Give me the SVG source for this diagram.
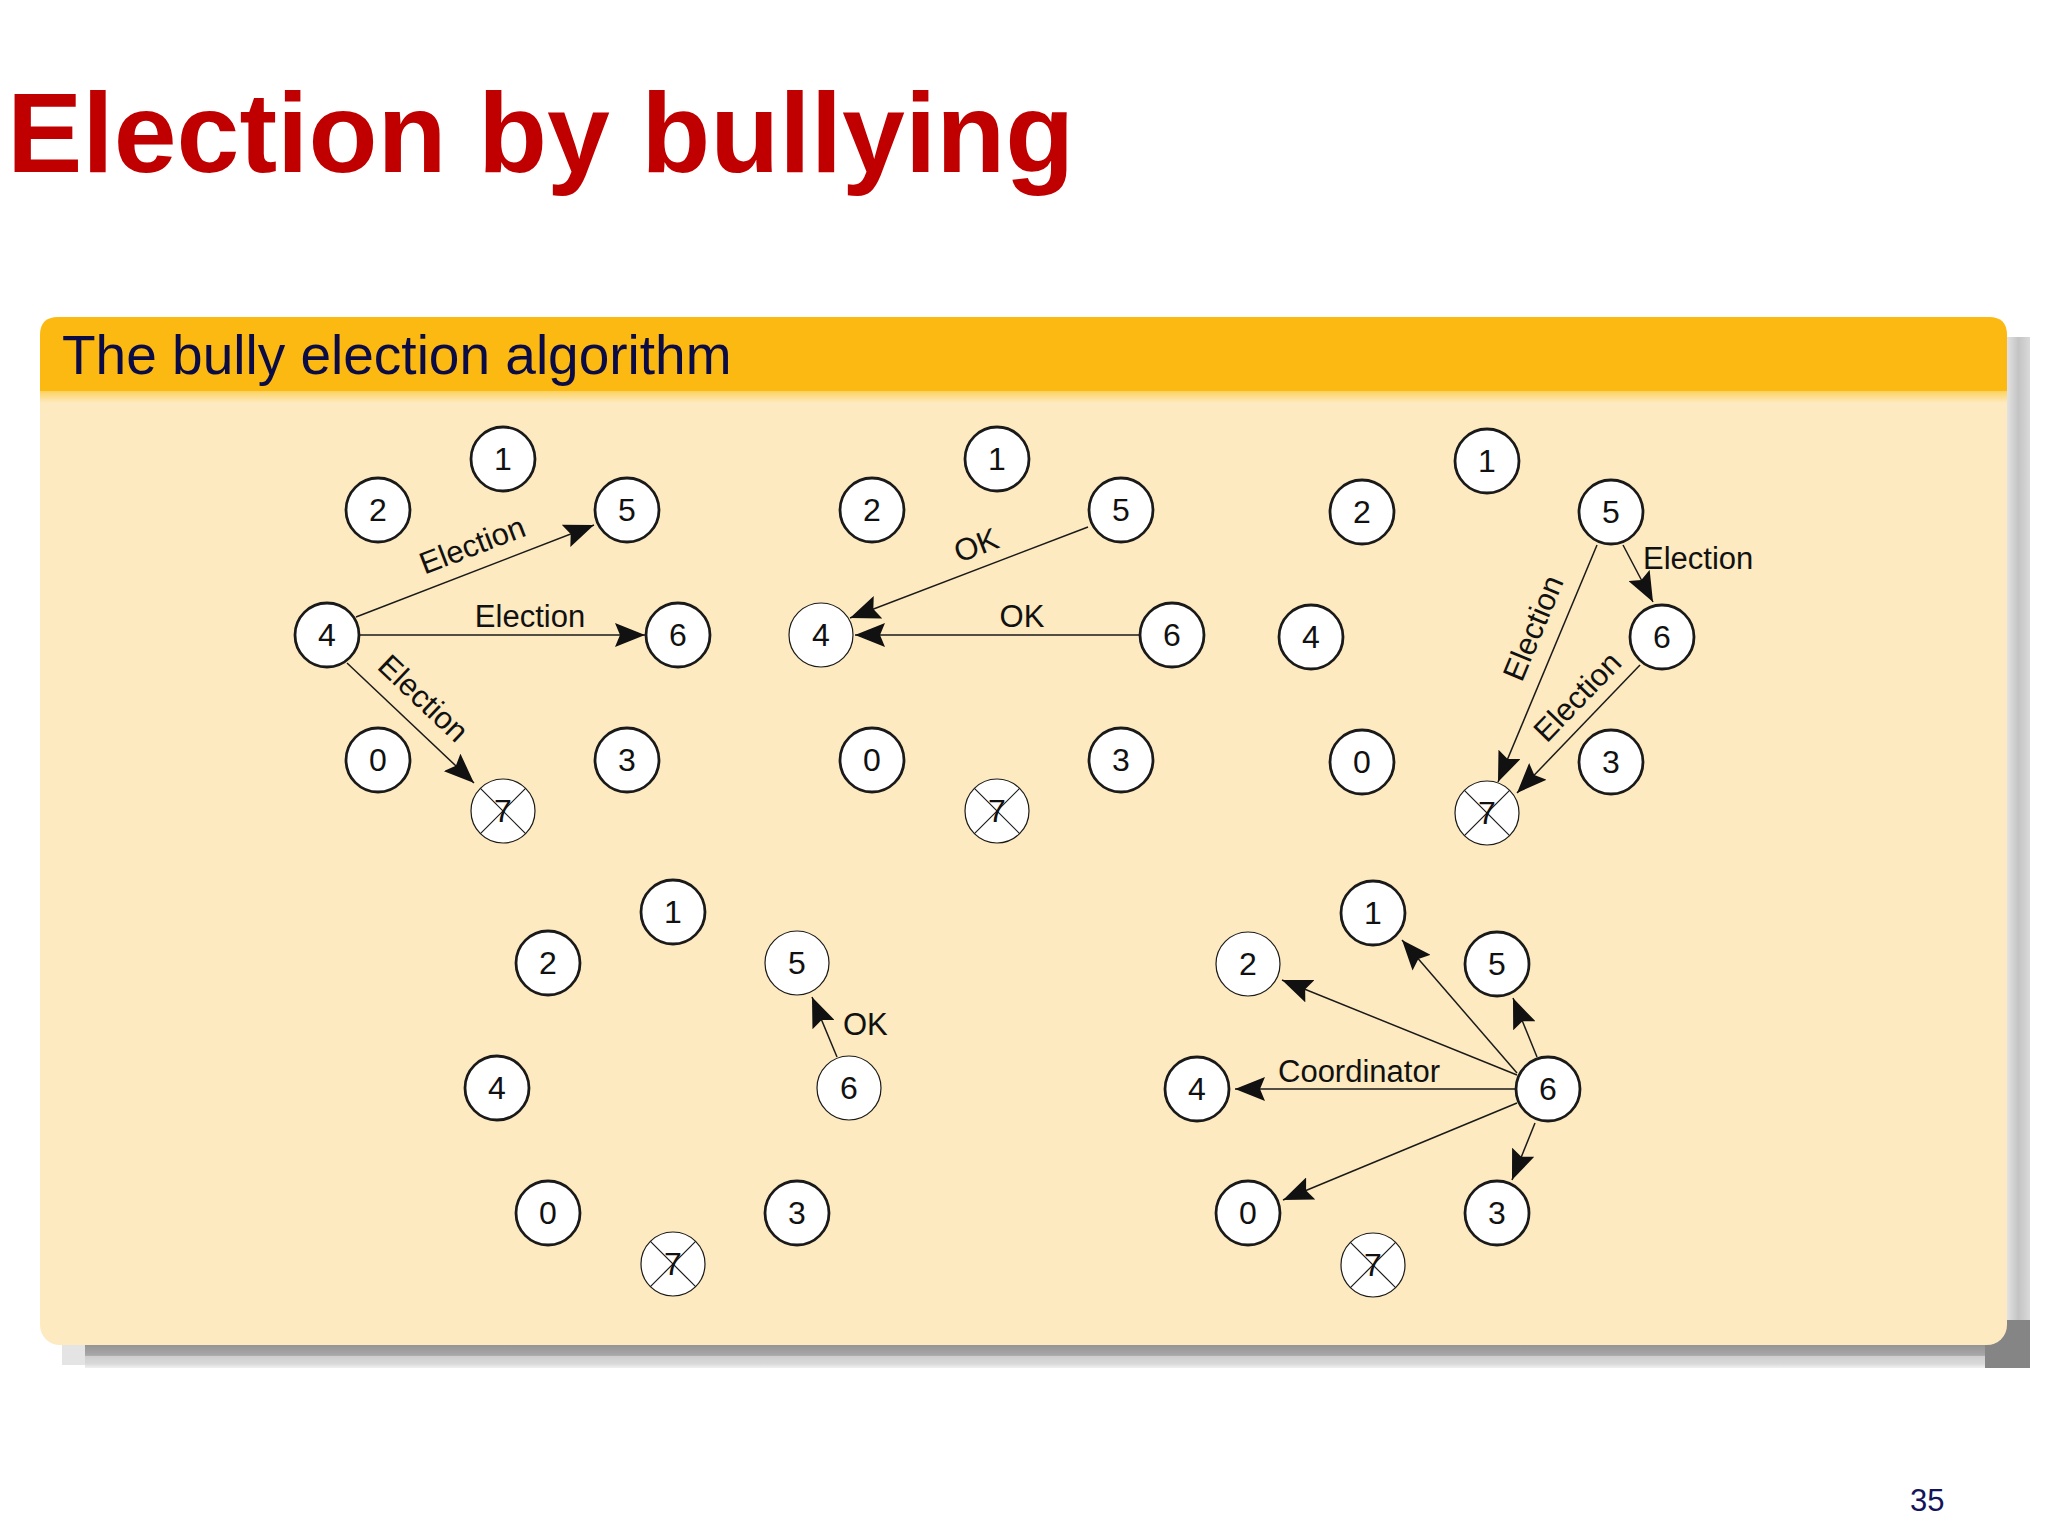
<svg xmlns="http://www.w3.org/2000/svg" width="2048" height="1536" viewBox="0 0 2048 1536">
<defs>
<style>
.title{font-family:"Liberation Sans",Arial,sans-serif;font-weight:bold;font-size:113px;fill:#C00000}
.hdr{font-family:"Liberation Sans",Arial,sans-serif;font-size:55px;fill:#0B0B45}
.pg{font-family:"Liberation Sans",Arial,sans-serif;font-size:31px;fill:#14145A}
.node circle{fill:#fff;stroke:#1a1a1a;stroke-width:2.8}
.node.thin circle{stroke-width:1.2}
.node line{stroke:#1a1a1a;stroke-width:1.2}
.node text{font-family:"Liberation Sans",Arial,sans-serif;font-size:32px;text-anchor:middle;fill:#111}
.edge{stroke:#1a1a1a;stroke-width:1.5;fill:none;marker-end:url(#arr)}
.lbl{font-family:"Liberation Sans",Arial,sans-serif;font-size:31px;fill:#111}
.mid{text-anchor:middle}
</style>
<marker id="arr" markerUnits="userSpaceOnUse" markerWidth="30" markerHeight="24" refX="30" refY="12" orient="auto">
<path d="M0,0 L30,12 L0,24 L5,12 Z" fill="#111"/>
</marker>
<linearGradient id="rsh" x1="0" y1="0" x2="1" y2="0">
<stop offset="0" stop-color="#e2e2e2"/><stop offset="0.5" stop-color="#c4c4c4"/><stop offset="1" stop-color="#dadada"/>
</linearGradient>
<linearGradient id="bsh" x1="0" y1="0" x2="0" y2="1">
<stop offset="0" stop-color="#959595"/><stop offset="0.45" stop-color="#a8a8a8"/><stop offset="0.5" stop-color="#cfcfcf"/><stop offset="0.8" stop-color="#d8d8d8"/><stop offset="1" stop-color="#f0f0f0"/>
</linearGradient>
<linearGradient id="hfade" x1="0" y1="0" x2="0" y2="1">
<stop offset="0" stop-color="#FCD25E"/><stop offset="1" stop-color="#FDEAC0"/>
</linearGradient>
</defs>

<rect width="2048" height="1536" fill="#ffffff"/>
<text class="title" x="7" y="172">Election by bullying</text>

<g id="panel">
<rect x="2007" y="337" width="23" height="1010" fill="url(#rsh)"/>
<rect x="62" y="1345" width="30" height="20" fill="#e4e4e4"/>
<rect x="85" y="1345" width="1922" height="23" fill="url(#bsh)"/>
<rect x="1985" y="1320" width="45" height="48" fill="#858585"/>
<rect x="40" y="317" width="1967" height="1028" rx="20" ry="20" fill="#FDEAC0"/>
<path d="M40,392 L40,335 Q40,317 58,317 L1989,317 Q2007,317 2007,335 L2007,392 Z" fill="#FCB912"/>
<rect x="40" y="391" width="1967" height="12" fill="url(#hfade)"/>
<text class="hdr" x="62" y="374">The bully election algorithm</text>
</g>

<g id="connectors">
<!-- D1 -->
<line class="edge" x1="356" y1="617" x2="594" y2="525"/>
<line class="edge" x1="360" y1="635" x2="645" y2="635"/>
<line class="edge" x1="347" y1="663" x2="474" y2="783"/>
<!-- D2 -->
<line class="edge" x1="1088" y1="527" x2="850" y2="618"/>
<line class="edge" x1="1139" y1="635" x2="855" y2="635"/>
<!-- D3 -->
<line class="edge" x1="1623" y1="545" x2="1653" y2="602"/>
<line class="edge" x1="1597" y1="545" x2="1498" y2="782"/>
<line class="edge" x1="1640" y1="665" x2="1517" y2="793"/>
<!-- D4 -->
<line class="edge" x1="837" y1="1057" x2="812" y2="997"/>
<!-- D5 -->
<line class="edge" x1="1517" y1="1073" x2="1402" y2="940"/>
<line class="edge" x1="1537" y1="1057" x2="1513" y2="998"/>
<line class="edge" x1="1517" y1="1075" x2="1282" y2="980"/>
<line class="edge" x1="1515" y1="1089" x2="1235" y2="1089"/>
<line class="edge" x1="1517" y1="1103" x2="1283" y2="1200"/>
<line class="edge" x1="1535" y1="1123" x2="1512" y2="1180"/>
</g>

<g id="labels">
<text class="lbl mid" transform="translate(476,555) rotate(-21)">Election</text>
<text class="lbl mid" x="530" y="627">Election</text>
<text class="lbl mid" transform="translate(416,706) rotate(43.5)">Election</text>
<text class="lbl mid" transform="translate(980,555) rotate(-21)">OK</text>
<text class="lbl mid" x="1022" y="627">OK</text>
<text class="lbl" x="1643" y="569">Election</text>
<text class="lbl mid" transform="translate(1543,632) rotate(-67.4)">Election</text>
<text class="lbl mid" transform="translate(1585,704) rotate(-46)">Election</text>
<text class="lbl" x="843" y="1035">OK</text>
<text class="lbl" x="1278" y="1082">Coordinator</text>
</g>

<!-- Diagram 1 -->
<g id="d1-n1" class="node" transform="translate(503,459)"><circle r="32"/><text y="11">1</text></g>
<g id="d1-n2" class="node" transform="translate(378,510)"><circle r="32"/><text y="11">2</text></g>
<g id="d1-n5" class="node" transform="translate(627,510)"><circle r="32"/><text y="11">5</text></g>
<g id="d1-n4" class="node" transform="translate(327,635)"><circle r="32"/><text y="11">4</text></g>
<g id="d1-n6" class="node" transform="translate(678,635)"><circle r="32"/><text y="11">6</text></g>
<g id="d1-n0" class="node" transform="translate(378,760)"><circle r="32"/><text y="11">0</text></g>
<g id="d1-n3" class="node" transform="translate(627,760)"><circle r="32"/><text y="11">3</text></g>
<g id="d1-n7" class="node thin" transform="translate(503,811)"><circle r="32"/><line x1="-22.6" y1="-22.6" x2="22.6" y2="22.6"/><line x1="22.6" y1="-22.6" x2="-22.6" y2="22.6"/><text y="11">7</text></g>

<!-- Diagram 2 -->
<g id="d2-n1" class="node" transform="translate(997,459)"><circle r="32"/><text y="11">1</text></g>
<g id="d2-n2" class="node" transform="translate(872,510)"><circle r="32"/><text y="11">2</text></g>
<g id="d2-n5" class="node" transform="translate(1121,510)"><circle r="32"/><text y="11">5</text></g>
<g id="d2-n4" class="node thin" transform="translate(821,635)"><circle r="32"/><text y="11">4</text></g>
<g id="d2-n6" class="node" transform="translate(1172,635)"><circle r="32"/><text y="11">6</text></g>
<g id="d2-n0" class="node" transform="translate(872,760)"><circle r="32"/><text y="11">0</text></g>
<g id="d2-n3" class="node" transform="translate(1121,760)"><circle r="32"/><text y="11">3</text></g>
<g id="d2-n7" class="node thin" transform="translate(997,811)"><circle r="32"/><line x1="-22.6" y1="-22.6" x2="22.6" y2="22.6"/><line x1="22.6" y1="-22.6" x2="-22.6" y2="22.6"/><text y="11">7</text></g>

<!-- Diagram 3 -->
<g id="d3-n1" class="node" transform="translate(1487,461)"><circle r="32"/><text y="11">1</text></g>
<g id="d3-n2" class="node" transform="translate(1362,512)"><circle r="32"/><text y="11">2</text></g>
<g id="d3-n5" class="node" transform="translate(1611,512)"><circle r="32"/><text y="11">5</text></g>
<g id="d3-n4" class="node" transform="translate(1311,637)"><circle r="32"/><text y="11">4</text></g>
<g id="d3-n6" class="node" transform="translate(1662,637)"><circle r="32"/><text y="11">6</text></g>
<g id="d3-n0" class="node" transform="translate(1362,762)"><circle r="32"/><text y="11">0</text></g>
<g id="d3-n3" class="node" transform="translate(1611,762)"><circle r="32"/><text y="11">3</text></g>
<g id="d3-n7" class="node thin" transform="translate(1487,813)"><circle r="32"/><line x1="-22.6" y1="-22.6" x2="22.6" y2="22.6"/><line x1="22.6" y1="-22.6" x2="-22.6" y2="22.6"/><text y="11">7</text></g>

<!-- Diagram 4 -->
<g id="d4-n1" class="node" transform="translate(673,912)"><circle r="32"/><text y="11">1</text></g>
<g id="d4-n2" class="node" transform="translate(548,963)"><circle r="32"/><text y="11">2</text></g>
<g id="d4-n5" class="node thin" transform="translate(797,963)"><circle r="32"/><text y="11">5</text></g>
<g id="d4-n4" class="node" transform="translate(497,1088)"><circle r="32"/><text y="11">4</text></g>
<g id="d4-n6" class="node thin" transform="translate(849,1088)"><circle r="32"/><text y="11">6</text></g>
<g id="d4-n0" class="node" transform="translate(548,1213)"><circle r="32"/><text y="11">0</text></g>
<g id="d4-n3" class="node" transform="translate(797,1213)"><circle r="32"/><text y="11">3</text></g>
<g id="d4-n7" class="node thin" transform="translate(673,1264)"><circle r="32"/><line x1="-22.6" y1="-22.6" x2="22.6" y2="22.6"/><line x1="22.6" y1="-22.6" x2="-22.6" y2="22.6"/><text y="11">7</text></g>

<!-- Diagram 5 -->
<g id="d5-n1" class="node" transform="translate(1373,913)"><circle r="32"/><text y="11">1</text></g>
<g id="d5-n2" class="node thin" transform="translate(1248,964)"><circle r="32"/><text y="11">2</text></g>
<g id="d5-n5" class="node" transform="translate(1497,964)"><circle r="32"/><text y="11">5</text></g>
<g id="d5-n4" class="node" transform="translate(1197,1089)"><circle r="32"/><text y="11">4</text></g>
<g id="d5-n6" class="node" transform="translate(1548,1089)"><circle r="32"/><text y="11">6</text></g>
<g id="d5-n0" class="node" transform="translate(1248,1213)"><circle r="32"/><text y="11">0</text></g>
<g id="d5-n3" class="node" transform="translate(1497,1213)"><circle r="32"/><text y="11">3</text></g>
<g id="d5-n7" class="node thin" transform="translate(1373,1265)"><circle r="32"/><line x1="-22.6" y1="-22.6" x2="22.6" y2="22.6"/><line x1="22.6" y1="-22.6" x2="-22.6" y2="22.6"/><text y="11">7</text></g>

<text class="pg" x="1910" y="1511">35</text>
</svg>
